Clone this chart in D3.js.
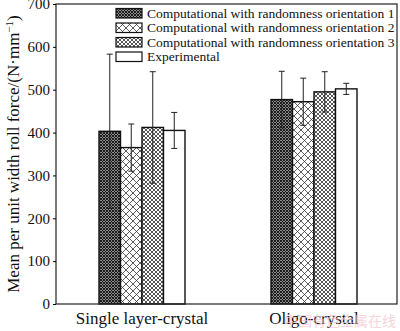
<!DOCTYPE html>
<html>
<head>
<meta charset="utf-8">
<script src="https://cdn.jsdelivr.net/npm/d3@7"></script>
<style>
body{margin:0;background:#fff;}
svg text{font-family:"Liberation Serif","Times New Roman",serif;fill:#111;}
</style>
</head>
<body>
<div id="chart"></div>
<script>
// datos
var categories = ['Single layer-crystal', 'Oligo-crystal'];
var seriesNames = ['Computational with randomness orientation 1',
                   'Computational with randomness orientation 2',
                   'Computational with randomness orientation 3',
                   'Experimental'];
var meanSingle = [403, 365, 412, 405];
var errSingle  = [180, 55, 130, 42];
var meanOligo  = [477, 472, 495, 502];
var errOligo   = [66, 55, 47, 13];
var yTicks = [0, 100, 200, 300, 400, 500, 600, 700];

var W = 400, H = 331;
var m = {left:56, right:3, top:4, bottom:27};
var pw = W - m.left - m.right, ph = H - m.top - m.bottom;

var svg = d3.select('#chart').append('svg').attr('width', W).attr('height', H);

// patrones de relleno
var defs = svg.append('defs');
function hatch(id, size, stroke, sw, bg){
    var p = defs.append('pattern').attr('id', id)
        .attr('patternUnits','userSpaceOnUse').attr('width', size).attr('height', size);
    p.append('rect').attr('width', size).attr('height', size).attr('fill', bg);
    p.append('path').attr('d','M0,0L'+size+','+size+'M'+size+',0L0,'+size
        +'M-1,1L1,-1M'+(size-1)+','+(size+1)+'L'+(size+1)+','+(size-1))
        .attr('stroke', stroke).attr('stroke-width', sw).attr('fill','none');
}
hatch('p1', 3, '#111', 1.1, '#fff');
hatch('p2', 7, '#333', 0.8, '#fff');
hatch('p3', 4, '#444', 0.9, '#fff');
var fills = ['url(#p1)', 'url(#p2)', 'url(#p3)', '#fff'];

var g = svg.append('g').attr('transform','translate('+m.left+','+m.top+')');

var y = d3.scaleLinear().domain([0,700]).range([ph, 0]);
var x0 = d3.scaleBand().domain(categories).range([0, pw+3]).paddingInner(0.5).paddingOuter(0.25);
var x1 = d3.scaleBand().domain(d3.range(4)).range([0, x0.bandwidth()]);

var rows = [];
categories.forEach(function(c, ci){
    var means = ci === 0 ? meanSingle : meanOligo;
    var errs = ci === 0 ? errSingle : errOligo;
    means.forEach(function(v, i){ rows.push({cat:c, i:i, v:v, e:errs[i]}); });
});

g.selectAll('rect.bar').data(rows).enter().append('rect')
    .attr('class','bar')
    .attr('x', d => x0(d.cat) + x1(d.i))
    .attr('y', d => y(d.v))
    .attr('width', x1.bandwidth())
    .attr('height', d => ph - y(d.v))
    .attr('fill', d => fills[d.i])
    .attr('stroke', '#111').attr('stroke-width', 1.4);

// barras de error
var eb = g.append('g').attr('stroke','#222').attr('stroke-width',1);
rows.forEach(function(d){
    var cx = x0(d.cat) + x1(d.i) + x1.bandwidth()/2;
    eb.append('line').attr('x1',cx).attr('x2',cx).attr('y1',y(d.v+d.e)).attr('y2',y(d.v-d.e));
    eb.append('line').attr('x1',cx-3).attr('x2',cx+3).attr('y1',y(d.v+d.e)).attr('y2',y(d.v+d.e));
    eb.append('line').attr('x1',cx-3).attr('x2',cx+3).attr('y1',y(d.v-d.e)).attr('y2',y(d.v-d.e));
});

// marco
g.append('rect').attr('width', pw).attr('height', ph)
    .attr('fill','none').attr('stroke','#222').attr('stroke-width',1.2);

var yAxis = g.append('g').call(d3.axisLeft(y).tickValues(yTicks).tickSize(3).tickPadding(3));
yAxis.select('.domain').remove();
yAxis.selectAll('text').style('font-size','15px').style('font-family','"Liberation Serif",serif');

svg.selectAll('text.xlab').data(categories).enter().append('text')
    .attr('class','xlab')
    .attr('x', d => m.left + x0(d) + x0.bandwidth()/2)
    .attr('y', 324)
    .attr('text-anchor','middle')
    .style('font-size','17px')
    .text(d => d);

svg.append('text')
    .attr('transform','translate(19,'+(m.top+ph/2)+') rotate(-90)')
    .attr('text-anchor','middle')
    .style('font-size','17px')
    .html('Mean per unit width roll force/(N\u00b7mm<tspan dy="-6" font-size="11px">\u22121</tspan><tspan dy="6">)</tspan>');

// leyenda
var leg = svg.append('g');
seriesNames.forEach(function(s, i){
    var yy = 8.5 + i*14.5;
    leg.append('rect').attr('x',116).attr('y',yy).attr('width',26).attr('height',9.5)
        .attr('fill', fills[i]).attr('stroke','#111').attr('stroke-width',1.2);
    leg.append('text').attr('x',147).attr('y',yy+9).style('font-size','13.5px').text(s);
});

// marca de agua
svg.append('text').attr('x',396).attr('y',326).attr('text-anchor','end')
    .style('font-size','14px').style('font-family','"Noto Sans CJK SC",sans-serif')
    .style('fill','#f4c4cb').attr('opacity',0.7).text('中国有色金属在线');
</script>
</body>
</html>
